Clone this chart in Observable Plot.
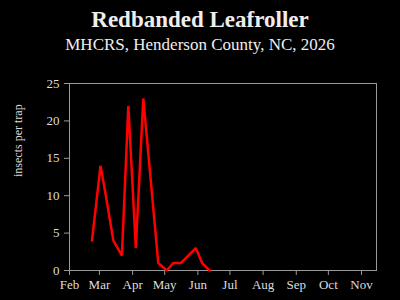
<!DOCTYPE html>
<html><head>
<meta charset="utf-8">
<script src="https://cdn.jsdelivr.net/npm/d3@7"></script>
<script src="https://cdn.jsdelivr.net/npm/@observablehq/plot@0.6"></script>
<style>
html,body{margin:0;padding:0;background:#000;}
body{width:400px;height:300px;overflow:hidden;font-family:"Liberation Serif","DejaVu Serif",serif;color:#eee;}
#hdr{height:60px;text-align:center;}
#t1{font-size:23px;font-weight:bold;line-height:26px;padding-top:7px;}
#t2{font-size:17px;line-height:20px;margin-top:2px;}
#chart svg{display:block;}
</style></head><body>
<div id="hdr"><div id="t1">Redbanded Leafroller</div><div id="t2">MHCRS, Henderson County, NC, 2026</div></div>
<div id="chart"></div>
<script>
const dates = ["2026-02-22","2026-03-02","2026-03-07","2026-03-14","2026-03-22","2026-03-28","2026-04-04","2026-04-11","2026-04-25","2026-05-03","2026-05-09","2026-05-16","2026-05-30","2026-06-05","2026-06-12"];
const counts = [4,14,10,4,2,22,3,23,1,0,1,1,3,1,0];
const monthTicks = ["2026-02-01","2026-03-01","2026-04-01","2026-05-01","2026-06-01","2026-07-01","2026-08-01","2026-09-01","2026-10-01","2026-11-01"];
const monthLabels = ["Feb","Mar","Apr","May","Jun","Jul","Aug","Sep","Oct","Nov"];
const yTicks = [0,5,10,15,20,25];

const data = dates.map((d,i)=>({date:new Date(d+"T00:00Z"), count:counts[i]}));
const tickDates = monthTicks.map(d=>new Date(d+"T00:00Z"));
const labelOf = new Map(tickDates.map((d,i)=>[+d, monthLabels[i]]));

const chart = Plot.plot({
  width:400, height:240,
  marginTop:23, marginBottom:30, marginLeft:69, marginRight:24,
  style:{background:"#000", color:"#ddd", fontFamily:"'Liberation Serif', serif", fontSize:"13px"},
  x:{type:"utc", domain:[new Date("2026-02-01T00:00Z"), new Date("2026-11-15T00:00Z")], ticks:tickDates, tickFormat:d=>labelOf.get(+d), label:null, tickSize:5, tickPadding:4},
  y:{domain:[0,25], ticks:yTicks, label:null, tickSize:5, tickPadding:4},
  marks:[
    Plot.frame({stroke:"#999"}),
    Plot.axisX({ticks:tickDates, tickFormat:d=>labelOf.get(+d), stroke:"#999", tickSize:5, tickPadding:4, label:null, fontSize:13}),
    Plot.axisY({ticks:yTicks, stroke:"#999", tickSize:5, tickPadding:5, label:null, fontSize:13}),
    Plot.text(["insects per trap"], {frameAnchor:"left", dx:-51, rotate:-90, fill:"#ddd", fontSize:12}),
    Plot.line(data, {x:"date", y:"count", stroke:"#ff0000", strokeWidth:2.5, strokeLinejoin:"miter"})
  ]
});
document.getElementById("chart").appendChild(chart);
</script>
</body></html>
